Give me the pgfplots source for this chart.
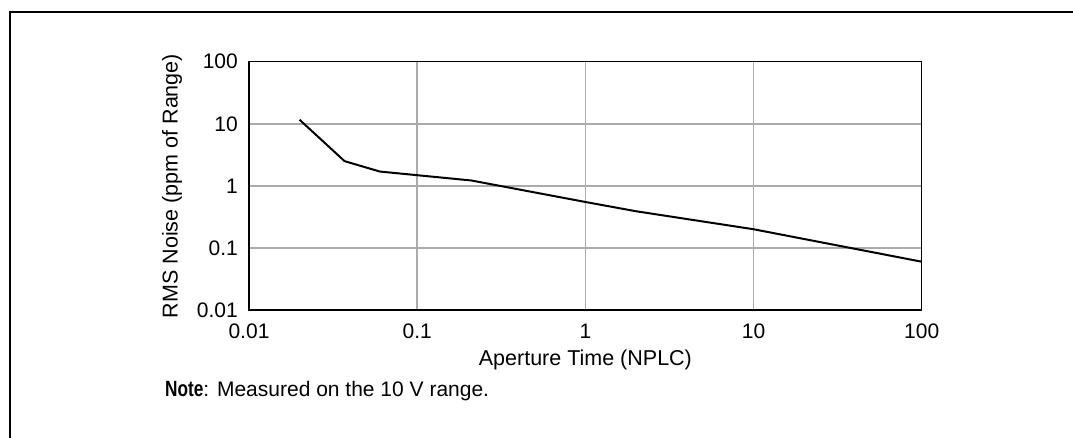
\documentclass[border=0pt]{standalone}
\usepackage{fontspec}
\setmainfont{Liberation Sans}
\usepackage{pgfplots}
\pgfplotsset{compat=1.18}

\begin{document}
\begin{tikzpicture}[x=1pt,y=1pt]
\useasboundingbox (0,0) rectangle (1073,437);
% outer frame (only top and left are visible)
\draw[line width=2.5pt] (10,-10) -- (10,425) -- (1085,425);

\begin{axis}[
    at={(249pt,127pt)}, anchor=south west,
    scale only axis,
    width=672.7pt, height=248.3pt,
    xmode=log, ymode=log,
    xmin=0.01, xmax=100,
    ymin=0.01, ymax=100,
    xtick={0.01,0.1,1,10,100},
    ytick={0.01,0.1,1,10,100},
    xticklabels={0.01,0.1,1,10,100},
    yticklabels={0.01,0.1,1,10,100},
    grid=major,
    major grid style={draw=black!33, line width=1.5pt},
    axis line style={line width=1.5pt},
    major tick length=0pt,
    minor tick length=0pt,
    tick label style={font=\fontsize{21}{25}\selectfont},
    xticklabel style={anchor=center, yshift=-21pt},
    yticklabel style={anchor=east, inner sep=0pt, xshift=-11pt},
]
\addplot[black, line width=2pt] coordinates {
    (0.02,11.6)
    (0.037,2.5)
    (0.06,1.7)
    (0.21,1.22)
    (1,0.55)
    (2,0.39)
    (10,0.2)
    (100,0.06)
};
\end{axis}

\node[font=\fontsize{21.5}{25}\selectfont] at (585.4,77) {Aperture Time (NPLC)};
\node[font=\fontsize{21.5}{25}\selectfont, rotate=90] at (172,251) {RMS Noise (ppm of Range)};
\node[font=\fontsize{21}{25}\selectfont, anchor=base west, inner sep=0pt] at (165,41)
    {\scalebox{0.82}[1.05]{\bfseries Note}: Measured on the 10 V range.};
\end{tikzpicture}
\end{document}
